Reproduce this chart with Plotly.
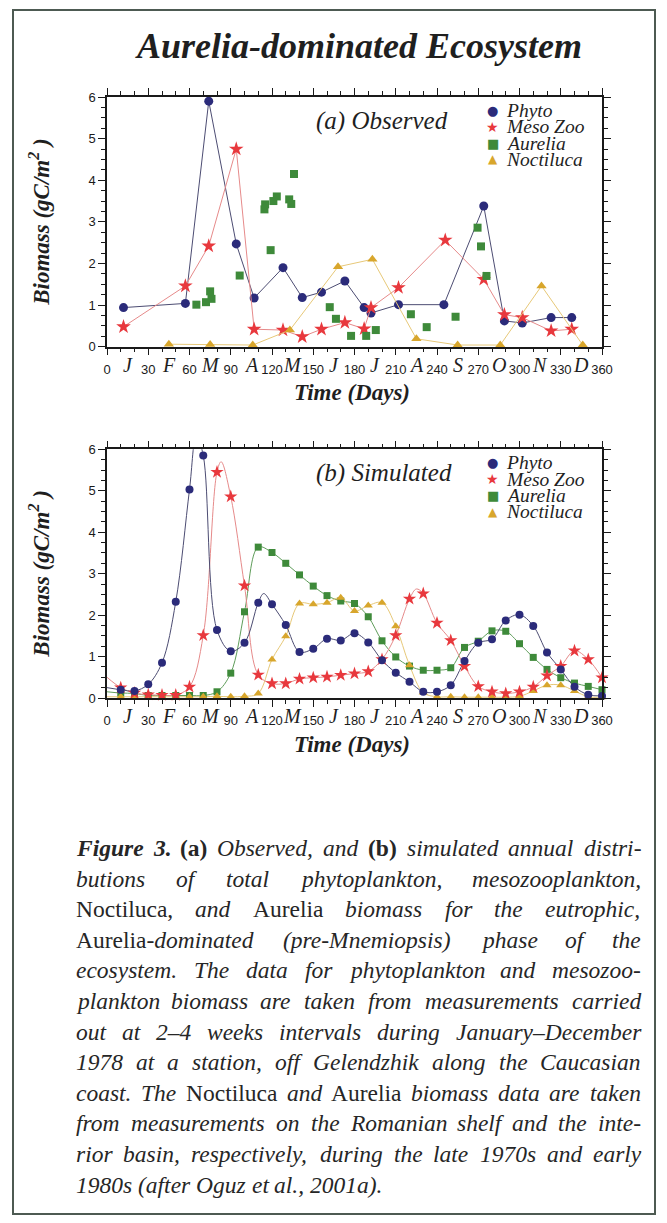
import re
import plotly.graph_objects as go

# ---------------- data ----------------
# (a) Observed
obs_phyto_day = [12, 57, 74, 94, 107, 128, 142, 156, 173, 187, 192, 212, 245, 274, 289, 302, 323, 338]
obs_phyto_val = [0.94, 1.04, 5.90, 2.47, 1.17, 1.90, 1.18, 1.31, 1.58, 0.94, 0.81, 1.01, 1.01, 3.38, 0.62, 0.57, 0.70, 0.70]

obs_meso_day = [12, 57, 74, 94, 107, 128, 142, 156, 173, 187, 192, 212, 246, 274, 289, 302, 323, 338]
obs_meso_val = [0.48, 1.46, 2.42, 4.75, 0.42, 0.40, 0.24, 0.42, 0.58, 0.43, 0.94, 1.42, 2.56, 1.62, 0.77, 0.70, 0.38, 0.42]

obs_aurelia_day = [65, 72, 76, 75, 96.5, 114.5, 115, 119, 121, 123.5, 132.5, 134, 136,
                   162, 166.5, 177.5, 188.5, 195.5, 221, 232.5, 253.5, 269.5, 272, 276]
obs_aurelia_val = [1.01, 1.07, 1.15, 1.33, 1.71, 3.30, 3.42, 2.32, 3.50, 3.61, 3.54, 3.43, 4.15,
                   0.95, 0.67, 0.26, 0.26, 0.40, 0.78, 0.47, 0.72, 2.86, 2.41, 1.70]

obs_noct_day = [45, 75, 106, 133, 168, 193, 225, 255, 286, 316, 346]
obs_noct_val = [0.06, 0.05, 0.04, 0.40, 1.92, 2.10, 0.19, 0.04, 0.04, 1.46, 0.04]

# (b) Simulated (markers every 10 days)
sim_days = [10, 20, 30, 40, 50, 60, 70, 80, 90, 100, 110, 120, 130, 140, 150, 160, 170, 180,
            190, 200, 210, 220, 230, 240, 250, 260, 270, 280, 290, 300, 310, 320, 330, 340, 350, 360]
sim_phyto = [0.20, 0.17, 0.33, 0.85, 2.32, 5.03, 5.85, 1.64, 1.13, 1.33, 2.30, 2.26, 1.76, 1.11, 1.19, 1.43, 1.39, 1.56,
             1.34, 0.91, 0.61, 0.39, 0.15, 0.15, 0.31, 0.89, 1.33, 1.42, 1.87, 2.01, 1.74, 1.10, 0.69, 0.27, 0.08, 0.05]
sim_meso = [0.25, 0.12, 0.08, 0.07, 0.07, 0.27, 1.51, 5.45, 4.86, 2.71, 0.56, 0.35, 0.35, 0.46, 0.49, 0.51, 0.55, 0.59,
            0.64, 0.93, 1.51, 2.39, 2.52, 1.81, 1.39, 0.77, 0.28, 0.15, 0.11, 0.15, 0.27, 0.54, 0.77, 1.14, 0.93, 0.49]
sim_aurelia = [0.12, 0.11, 0.06, 0.06, 0.06, 0.06, 0.06, 0.15, 0.60, 2.08, 3.64, 3.51, 3.25, 2.97, 2.70, 2.47, 2.34, 2.28,
               1.96, 1.38, 0.99, 0.77, 0.67, 0.67, 0.73, 1.22, 1.37, 1.62, 1.61, 1.31, 0.98, 0.69, 0.49, 0.36, 0.28, 0.20]
sim_noct = [0.03, 0.03, 0.03, 0.03, 0.03, 0.03, 0.03, 0.04, 0.03, 0.04, 0.11, 0.93, 1.49, 2.28, 2.26, 2.30, 2.42, 2.10,
            2.23, 2.30, 1.73, 0.79, 0.13, 0.03, 0.03, 0.02, 0.02, 0.02, 0.02, 0.04, 0.17, 0.31, 0.31, 0.17, 0.03, 0.02]

# extra points (between markers)
sim_phyto_curve_day = [0, 65, 114]
sim_phyto_curve_val = [0.25, 6.35, 2.52]
sim_meso_curve_day = [0, 83, 225]
sim_meso_curve_val = [0.50, 5.70, 2.63]
sim_aurelia_curve_day = [0]
sim_aurelia_curve_val = [0.15]
sim_noct_curve_day = [0]
sim_noct_curve_val = [0.03]

x_tick_vals = [0, 30, 60, 90, 120, 150, 180, 210, 240, 270, 300, 330, 360]
x_tick_text = [str(v) for v in x_tick_vals]
month_labels = ["J", "F", "M", "A", "M", "J", "J", "A", "S", "O", "N", "D"]
month_mid_days = [15, 45, 75, 105, 135, 165, 195, 225, 255, 285, 315, 345]
y_tick_vals = [0, 1, 2, 3, 4, 5, 6]

series_names = ["Phyto", "Meso Zoo", "Aurelia", "Noctiluca"]

caption_lines = [
    "<b><i>Figure 3.</i> (a)</b> <i>Observed, and</i> <b>(b)</b> <i>simulated annual distri-</i>",
    "<i>butions of total phytoplankton, mesozooplankton,</i>",
    "Noctiluca, <i>and</i> Aurelia <i>biomass for the eutrophic,</i>",
    "Aurelia-<i>dominated (pre-Mnemiopsis) phase of the</i>",
    "<i>ecosystem. The data for phytoplankton and mesozoo-</i>",
    "<i>plankton biomass are taken from measurements carried</i>",
    "<i>out at 2–4 weeks intervals during January–December</i>",
    "<i>1978 at a station, off Gelendzhik along the Caucasian</i>",
    "<i>coast. The</i> Noctiluca <i>and</i> Aurelia <i>biomass data are taken</i>",
    "<i>from measurements on the Romanian shelf and the inte-</i>",
    "<i>rior basin, respectively, during the late 1970s and early</i>",
    "<i>1980s (after Oguz et al., 2001a).</i>",
]

# ---------------- style ----------------
C_PHYTO = "#2b2b7a"
C_MESO = "#e8383d"
C_AUR = "#3e8a3a"
C_NOCT = "#d8a62c"
L_PHYTO = "#4c4c72"
L_MESO = "#e68a8a"
L_AUR = "#5f9d5a"
L_NOCT = "#e7c878"
SYM = {"Phyto": (C_PHYTO, "●", 13), "Meso Zoo": (C_MESO, "★", 14),
       "Aurelia": (C_AUR, "■", 13), "Noctiluca": (C_NOCT, "▲", 12)}

OFF = 8                      # page body margin of the html page
W, H = 667 - OFF, 1223 - OFF
A_TOP, A_BOT = 97, 346.7     # reference-pixel positions of the panels
B_TOP, B_BOT = 449.3, 698
X_LEFT, X_RIGHT = 107, 602
ML = X_LEFT - OFF
MR = W - (X_RIGHT - OFF)
MT = A_TOP - OFF
MB = H - (B_BOT - OFF)
PLOT_H = H - MT - MB
PLOT_W = W - ML - MR


def py(ref_pix):
    return (H - MB - (ref_pix - OFF)) / PLOT_H


def px(ref_pix):
    return (ref_pix - OFF - ML) / PLOT_W


def merge(d1, v1, d2, v2):
    pts = sorted(zip(list(d1) + list(d2), list(v1) + list(v2)))
    return [p[0] for p in pts], [p[1] for p in pts]


fig = go.Figure()

# ---- (a) observed ----
fig.add_trace(go.Scatter(x=obs_phyto_day, y=obs_phyto_val, mode="lines+markers", name="Phyto",
                         line=dict(color=L_PHYTO, width=1),
                         marker=dict(symbol="circle", size=9, color=C_PHYTO),
                         cliponaxis=False, xaxis="x", yaxis="y", showlegend=False))
fig.add_trace(go.Scatter(x=obs_meso_day, y=obs_meso_val, mode="lines+markers", name="Meso Zoo",
                         line=dict(color=L_MESO, width=1),
                         marker=dict(symbol="star", size=11, color=C_MESO),
                         cliponaxis=False, xaxis="x", yaxis="y", showlegend=False))
fig.add_trace(go.Scatter(x=obs_noct_day, y=obs_noct_val, mode="lines+markers", name="Noctiluca",
                         line=dict(color=L_NOCT, width=1),
                         marker=dict(symbol="triangle-up", size=9, color=C_NOCT),
                         cliponaxis=False, xaxis="x", yaxis="y", showlegend=False))
fig.add_trace(go.Scatter(x=obs_aurelia_day, y=obs_aurelia_val, mode="markers", name="Aurelia",
                         marker=dict(symbol="square", size=8, color=C_AUR),
                         cliponaxis=False, xaxis="x", yaxis="y", showlegend=False))

# ---- (b) simulated ----
sim_sets = [
    ("Aurelia", sim_aurelia, sim_aurelia_curve_day, sim_aurelia_curve_val, L_AUR, C_AUR, "square", 7),
    ("Noctiluca", sim_noct, sim_noct_curve_day, sim_noct_curve_val, L_NOCT, C_NOCT, "triangle-up", 8),
    ("Meso Zoo", sim_meso, sim_meso_curve_day, sim_meso_curve_val, L_MESO, C_MESO, "star", 10),
    ("Phyto", sim_phyto, sim_phyto_curve_day, sim_phyto_curve_val, L_PHYTO, C_PHYTO, "circle", 8),
]
for name, vals, cd, cv, lc, mc, sym, sz in sim_sets:
    ld, lv = merge(sim_days, vals, cd, cv)
    fig.add_trace(go.Scatter(x=ld, y=lv, mode="lines", name=name,
                             line=dict(color=lc, width=1, shape="spline", smoothing=1.0),
                             xaxis="x2", yaxis="y2", showlegend=False, hoverinfo="skip"))
for name, vals, cd, cv, lc, mc, sym, sz in sim_sets:
    fig.add_trace(go.Scatter(x=sim_days, y=vals, mode="markers", name=name,
                             marker=dict(symbol=sym, size=sz, color=mc),
                             cliponaxis=False, xaxis="x2", yaxis="y2", showlegend=False))

# ---- axes ----
tickfont = dict(family="Liberation Sans, Arial, sans-serif", size=13, color="#1a1a1a")
xcommon = dict(range=[0, 360], tickmode="array", tickvals=x_tick_vals, ticktext=x_tick_text,
               ticks="outside", ticklen=7, tickwidth=1, tickcolor="#1a1a1a",
               minor=dict(tick0=0, dtick=10, ticks="outside", ticklen=4, tickcolor="#1a1a1a", showgrid=False),
               showline=True, linecolor="#1a1a1a", linewidth=1.5, mirror="allticks",
               showgrid=False, zeroline=False, tickfont=tickfont, ticklabelstandoff=3, fixedrange=True)
ycommon = dict(range=[0, 6], tickmode="array", tickvals=y_tick_vals,
               ticks="outside", ticklen=7, tickwidth=1, tickcolor="#1a1a1a",
               minor=dict(tick0=0, dtick=0.25, ticks="outside", ticklen=4, tickcolor="#1a1a1a", showgrid=False),
               showline=True, linecolor="#1a1a1a", linewidth=1.5, mirror="allticks",
               showgrid=False, zeroline=False, tickfont=tickfont, fixedrange=True)

fig.update_layout(
    xaxis=dict(domain=[0, 1], anchor="y", **xcommon),
    yaxis=dict(domain=[py(A_BOT), py(A_TOP)], anchor="x", **ycommon),
    xaxis2=dict(domain=[0, 1], anchor="y2", **xcommon),
    yaxis2=dict(domain=[py(B_BOT), py(B_TOP)], anchor="x2", **ycommon),
)

SERIF = "Liberation Serif, Times New Roman, serif"
TXT = "#1f1f1f"
ann = []


def add_text(text, xpix, ypix, size, xanchor="center", yanchor="middle", angle=0, color=TXT, family=SERIF):
    ann.append(dict(text=text, x=px(xpix), y=py(ypix), xref="paper", yref="paper",
                    xanchor=xanchor, yanchor=yanchor, showarrow=False, textangle=angle,
                    borderpad=0, font=dict(family=family, size=size, color=color)))


# title
add_text("<b><i>Aurelia-dominated Ecosystem</i></b>", 358, 46, 36)

for (top, bot, xa, panel) in [(A_TOP, A_BOT, "x", "(a) Observed"), (B_TOP, B_BOT, "x2", "(b) Simulated")]:
    for d, m in zip(month_mid_days, month_labels):
        ann.append(dict(text="<i>%s</i>" % m, x=d, xref=xa, y=py(bot + 18), yref="paper",
                        xanchor="center", yanchor="middle", showarrow=False,
                        font=dict(family=SERIF, size=20, color=TXT)))
    add_text("<b><i>Time (Days)</i></b>", 352, bot + 46, 23)
    add_text("<b><i>Biomass (gC/m<sup>2</sup> )</i></b>", 40, (top + bot) / 2, 23, angle=-90)
    add_text("<i>%s</i>" % panel, 315, top + 24, 25, xanchor="left")
    for i, nm in enumerate(series_names):
        col, glyph, gsize = SYM[nm]
        yy = top + 13.5 + 16.3 * i
        add_text(glyph, 492.5, yy, gsize, color=col, family="DejaVu Sans")
        add_text("<i>%s</i>" % nm, 505, yy, 19.5, xanchor="left")

# ---- caption (justified like the original, Times metrics) ----
W_ROMAN = {'a': 444, 'b': 500, 'c': 444, 'd': 500, 'e': 444, 'f': 333, 'g': 500, 'h': 500, 'i': 278, 'j': 278,
           'k': 500, 'l': 278, 'm': 778, 'n': 500, 'o': 500, 'p': 500, 'q': 500, 'r': 333, 's': 389, 't': 278,
           'u': 500, 'v': 500, 'w': 722, 'x': 500, 'y': 500, 'z': 444, 'A': 722, 'N': 722, ',': 250, '-': 333,
           '.': 250, '(': 333, ')': 333}
W_ITAL = {'a': 500, 'b': 500, 'c': 444, 'd': 500, 'e': 444, 'f': 278, 'g': 500, 'h': 500, 'i': 278, 'j': 278,
          'k': 444, 'l': 278, 'm': 722, 'n': 500, 'o': 500, 'p': 500, 'q': 500, 'r': 389, 's': 389, 't': 278,
          'u': 500, 'v': 444, 'w': 667, 'x': 444, 'y': 444, 'z': 389, 'A': 611, 'C': 667, 'D': 722, 'G': 722,
          'J': 444, 'M': 833, 'O': 722, 'R': 611, 'T': 556, ',': 250, '-': 333, '.': 250, '(': 333, ')': 333,
          '–': 500, '0': 500, '1': 500, '2': 500, '3': 500, '4': 500, '5': 500, '6': 500, '7': 500, '8': 500,
          '9': 500}
W_BOLD = {'(': 333, ')': 333, 'a': 500, 'b': 556}
W_BI = {'F': 667, 'i': 278, 'g': 500, 'u': 556, 'r': 389, 'e': 444, '3': 500, '.': 250}


def seg_width(bold, ital, text):
    tab = W_BI if (bold and ital) else W_BOLD if bold else W_ITAL if ital else W_ROMAN
    return sum(tab.get(ch, 500) for ch in text) / 1000.0


def parse_words(line):
    st = {"b": False, "i": False}
    words = [[]]
    for tok in re.split(r"(</?[bi]>)", line):
        if re.fullmatch(r"</?[bi]>", tok):
            st[tok.strip("</>")] = not tok.startswith("</")
            continue
        for j, part in enumerate(tok.split(" ")):
            if j > 0:
                words.append([])
            if part:
                words[-1].append((st["b"], st["i"], part))
    return [w for w in words if w]


CAP_SIZE = 23.5
CAP_LEFT, CAP_RIGHT = 75, 640
CAP_Y0, CAP_DY = 848, 30.6
for li, line in enumerate(caption_lines):
    words = parse_words(line)
    widths = [sum(seg_width(b, it, t) for b, it, t in w) * CAP_SIZE for w in words]
    if li < len(caption_lines) - 1 and len(words) > 1:
        gap = (CAP_RIGHT - CAP_LEFT - sum(widths)) / (len(words) - 1)
    else:
        gap = 0.25 * CAP_SIZE
    xcur = CAP_LEFT
    for w, wd in zip(words, widths):
        txt = ""
        for b, it, t in w:
            s = t
            if it:
                s = "<i>%s</i>" % s
            if b:
                s = "<b>%s</b>" % s
            txt += s
        add_text(txt, xcur, CAP_Y0 + CAP_DY * li, CAP_SIZE, xanchor="left", color="#262626")
        xcur += wd + gap

fig.update_layout(
    width=W, height=H,
    margin=dict(l=ML, r=MR, t=MT, b=MB, pad=0),
    paper_bgcolor="white", plot_bgcolor="white",
    annotations=ann,
    showlegend=False,
    shapes=[dict(type="rect", xref="paper", yref="paper",
                 x0=px(13), x1=px(655), y0=py(1214), y1=py(10),
                 line=dict(color="#4d5a52", width=2), fillcolor="rgba(0,0,0,0)", layer="below")],
)

fig.write_html("out.html")
